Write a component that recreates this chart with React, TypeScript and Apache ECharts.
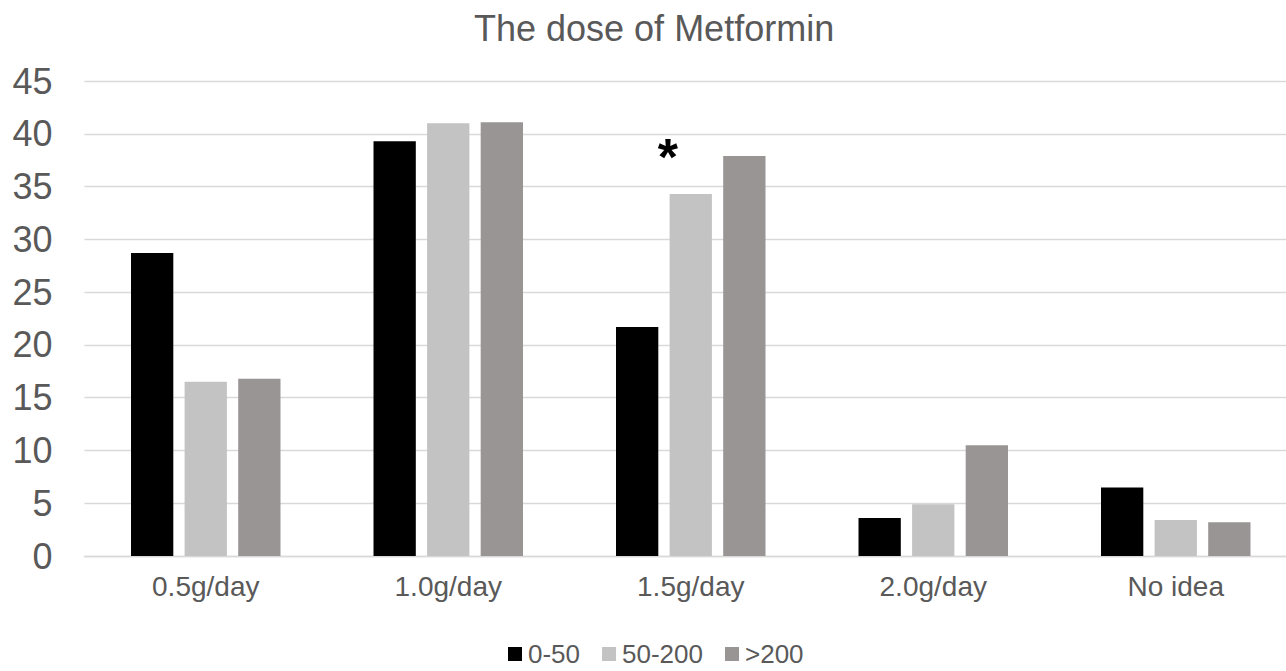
import React, { useEffect, useRef } from "react";
import * as echarts from "echarts";

const categories = ["0.5g/day", "1.0g/day", "1.5g/day", "2.0g/day", "No idea"];
const seriesNames = ["0-50", "50-200", ">200"];
const values0to50 = [28.7, 39.3, 21.7, 3.6, 6.5];
const values50to200 = [16.5, 41.0, 34.3, 4.9, 3.4];
const valuesOver200 = [16.8, 41.1, 37.9, 10.5, 3.2];
const seriesColors = ["#000000", "#c4c3c3", "#999594"];
const starIndex = 2; // asterisk above the 50-200 bar of 1.5g/day
const yMin = 0;
const yMax = 45;
const yInterval = 5;
const titleText = "The dose of Metformin";

export default function App() {
  const ref = useRef<HTMLDivElement>(null);
  useEffect(() => {
    if (!ref.current) return;
    const chart = echarts.init(ref.current, null, { renderer: "svg" });
    const font = "'Liberation Sans', Arial, sans-serif";
    const textColor = "#595959";
    const mid = values50to200.map((v, i) =>
      i === starIndex
        ? {
            value: v,
            label: {
              show: true,
              position: "top",
              formatter: "*",
              fontSize: 52,
              fontWeight: "bold",
              color: "#000",
              fontFamily: font,
              offset: [-23, -6],
            },
          }
        : v
    );
    chart.setOption({
      animation: false,
      backgroundColor: "#ffffff",
      title: {
        text: titleText,
        left: 474,
        top: 10,
        padding: 0,
        textStyle: { fontSize: 36, fontWeight: "normal", color: textColor, fontFamily: font },
      },
      legend: {
        left: 508,
        top: 641,
        padding: 0,
        itemWidth: 14,
        itemHeight: 14,
        itemGap: 22,
        icon: "rect",
        textStyle: {
          fontSize: 26,
          lineHeight: 20,
          color: textColor,
          fontFamily: font,
          padding: [0, 0, 0, 1],
        },
        data: seriesNames,
      },
      grid: { left: 84.5, right: 0, top: 81, bottom: 115, containLabel: false },
      xAxis: {
        type: "category",
        data: categories,
        axisTick: { show: false },
        axisLine: { lineStyle: { color: "#d9d9d9", width: 1.3 } },
        axisLabel: { fontSize: 28, color: textColor, fontFamily: font, margin: 16 },
      },
      yAxis: {
        type: "value",
        min: yMin,
        max: yMax,
        interval: yInterval,
        axisLine: { show: false },
        axisTick: { show: false },
        splitLine: { lineStyle: { color: "#d9d9d9", width: 1.3 } },
        axisLabel: { fontSize: 36, color: textColor, fontFamily: font, margin: 32 },
      },
      series: [
        {
          name: seriesNames[0],
          type: "bar",
          data: values0to50,
          barWidth: 42.3,
          barGap: "26.7%",
          itemStyle: { color: seriesColors[0] },
        },
        {
          name: seriesNames[1],
          type: "bar",
          data: mid,
          barWidth: 42.3,
          barGap: "26.7%",
          itemStyle: { color: seriesColors[1] },
        },
        {
          name: seriesNames[2],
          type: "bar",
          data: valuesOver200,
          barWidth: 42.3,
          barGap: "26.7%",
          itemStyle: { color: seriesColors[2] },
        },
      ],
    });
    return () => chart.dispose();
  }, []);
  return (
    <div
      ref={ref}
      style={{ position: "fixed", left: 0, top: 0, width: 1296.5, height: 671, background: "#fff" }}
    />
  );
}
